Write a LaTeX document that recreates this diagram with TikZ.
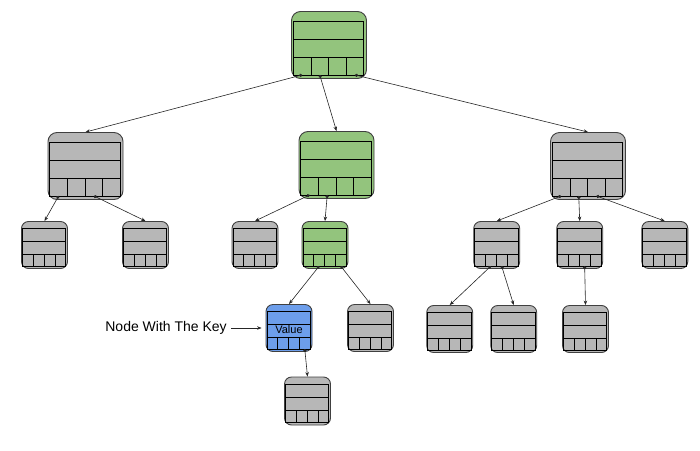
\documentclass[tikz,border=0pt]{standalone}
\usepackage{fontspec}
\setmainfont{Liberation Sans}
\usetikzlibrary{arrows.meta,calc,positioning}

\definecolor{nodegray}{RGB}{183,183,183}
\definecolor{nodegreen}{RGB}{147,196,125}
\definecolor{nodeblue}{RGB}{109,158,235}

\begin{document}
\begin{tikzpicture}[
        x=1pt, y=-1pt,
        >={Stealth[length=4.5pt,width=3.5pt]},
        big/.style = {draw=black!75, rounded corners=9pt, minimum width=75pt, minimum height=67pt, inner sep=0pt, line width=0.9pt},
        small/.style = {draw=black!75, rounded corners=7pt, minimum width=46pt, minimum height=47pt, inner sep=0pt, line width=0.9pt},
        grey/.style = {fill=nodegray},
        path/.style = {fill=nodegreen},
        found/.style = {fill=nodeblue},
        grid/.style = {black, line width=0.7pt},
        link/.style = {{Circle[length=3.2pt]}->, black!85, line width=0.6pt},
        semithick]

    \useasboundingbox (0,0) rectangle (700,450);

    % top two levels
    \node (root)  at (329,45)    [big, path] {};
    \node (left)  at (85.5,166)  [big, grey] {};
    \node (mid)   at (336.5,165) [big, path] {};
    \node (right) at (588,166)   [big, grey] {};

    % leaves and lower levels
    \node (a)   at (44.5,245)  [small, grey] {};
    \node (b)   at (145.5,245) [small, grey] {};
    \node (c)   at (255,245)   [small, grey] {};
    \node (d)   at (325,245)   [small, path] {};
    \node (e)   at (496.7,245) [small, grey] {};
    \node (f)   at (579.7,245) [small, grey] {};
    \node (g)   at (664.8,245) [small, grey] {};
    \node (key) at (289,328)   [small, found] {};
    \node (k)   at (370.5,328) [small, grey] {};
    \node (h)   at (449.7,329) [small, grey] {};
    \node (i)   at (513.7,329) [small, grey] {};
    \node (j)   at (585.5,329) [small, grey] {};
    \node (low) at (307.5,401) [small, grey, minimum height=48pt] {};

    % rows, cells and pointer spots
    \foreach \n/\w/\h in {root/75pt/67pt, left/75pt/67pt, mid/75pt/67pt, right/75pt/67pt,
                         a/46pt/47pt, b/46pt/47pt, c/46pt/47pt, d/46pt/47pt, e/46pt/47pt,
                         f/46pt/47pt, g/46pt/47pt, key/46pt/47pt, k/46pt/47pt, h/46pt/47pt,
                         i/46pt/47pt, j/46pt/47pt, low/46pt/48pt}
    {
        \begin{scope}[shift={(\n.south west)}, x=\w, y=\h]
            \draw[grid] (0.03,0.06) rectangle (0.97,0.86)
                        (0.03,0.32) -- (0.97,0.32)
                        (0.03,0.59) -- (0.97,0.59);
            \foreach \c in {0.265,0.5,0.735}
                \draw[grid] (\c,0.06) -- (\c,0.32);
            \foreach \c [count=\k] in {0.1475,0.3825,0.6175,0.8525}
                \coordinate (\n-p\k) at (\c,0.06);
        \end{scope}
    }

    \node (value) at ([yshift=-2pt]key.center) [inner sep=0pt, font=\fontsize{11}{13}\selectfont] {Value};

    \path (root-p1) edge [link] (left.north)
          (root-p2) edge [link] (mid.north)
          (root-p4) edge [link] (right.north)
          (left-p1) edge [link] (a.north)
          (left-p3) edge [link] (b.north)
          (mid-p1) edge [link] (c.north)
          (mid-p2) edge [link] (d.north)
          (right-p1) edge [link] (e.north)
          (right-p2) edge [link] (f.north)
          (right-p3) edge [link] (g.north)
          (d-p2) edge [link] (key.north)
          (d-p4) edge [link] (k.north)
          (e-p2) edge [link] (h.north)
          (e-p3) edge [link] (i.north)
          (f-p3) edge [link] (j.north)
          (key-p4) edge [link] (low.north);

    \node (keylabel) [left=38.5pt of key, inner sep=0pt, font=\fontsize{14}{16}\selectfont] {Node With The Key};
    \draw[->, black!85, line width=0.6pt, shorten <=4pt, shorten >=4pt] (keylabel) -- (key);

\end{tikzpicture}
\end{document}
